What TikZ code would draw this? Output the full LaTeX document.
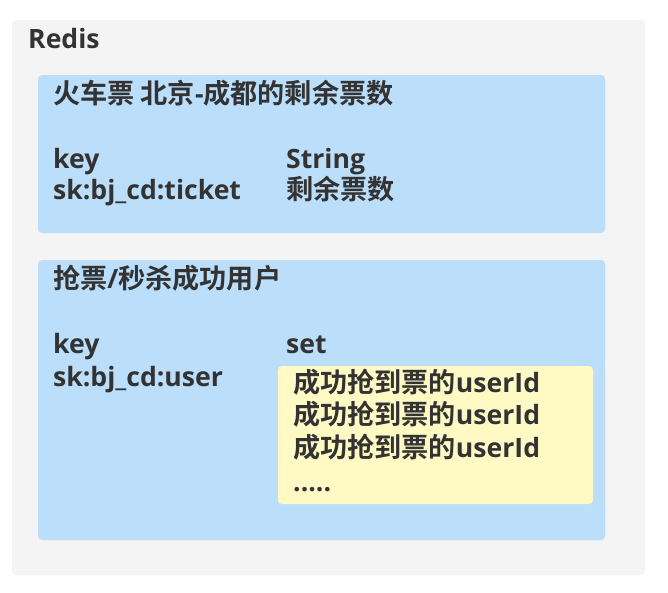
\documentclass[tikz,border=0pt]{standalone}
\usepackage{fontspec}
\setmainfont{Open Sans}[BoldFont={Open Sans Bold}]
\newfontfamily\cjk{Noto Sans CJK SC}[BoldFont={Noto Sans CJK SC Bold},Scale=1.02]
\definecolor{outerbg}{HTML}{F4F4F4}
\definecolor{bluebg}{HTML}{BBDEFB}
\definecolor{yellowbg}{HTML}{FFF9C4}
\definecolor{txt}{HTML}{333333}
\tikzset{
  panel/.style={rounded corners=4pt, draw=none},
  lbl/.style={anchor=base west, inner sep=0pt, text=txt, font=\fontsize{26.6}{30}\selectfont\bfseries},
}
\begin{document}
\begin{tikzpicture}[x=1pt,y=-1pt]
\useasboundingbox (0,0) rectangle (668,592);
\fill[white] (0,0) rectangle (668,592);
\fill[outerbg, panel] (12,20) rectangle (645,575);
\fill[bluebg, panel] (38,75) rectangle (605,233);
\fill[bluebg, panel] (38,260) rectangle (605,540);
\fill[yellowbg, panel] (278,366) rectangle (593,504);
\node[lbl] (redis) at (28,48) {Redis};
\node[lbl] (t1) at (53,103) {{\cjk 火车票 北京}-{\cjk 成都的剩余票数}};
\node[lbl] (k1) at (53,168) {key};
\node[lbl] (v1) at (53,199) {sk:bj\_cd:ticket};
\node[lbl] (s1) at (286,168) {String};
\node[lbl] (s2) at (286,199) {\cjk 剩余票数};
\node[lbl] (t2) at (53,288) {{\cjk 抢票}/{\cjk 秒杀成功用户}};
\node[lbl] (k2) at (53,353) {key};
\node[lbl] (v2) at (53,386) {sk:bj\_cd:user};
\node[lbl] (set) at (286,353) {set};
\node[lbl] (u1) at (293,392) {{\cjk 成功抢到票的}userId};
\node[lbl] (u2) at (293,424) {{\cjk 成功抢到票的}userId};
\node[lbl] (u3) at (293,457) {{\cjk 成功抢到票的}userId};
\node[lbl] (dots) at (293,491) {.....};
\end{tikzpicture}
\end{document}
